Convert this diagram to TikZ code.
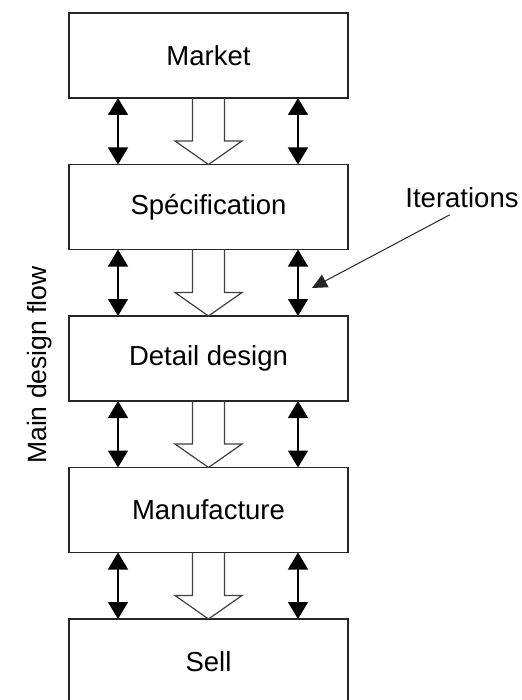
\documentclass[tikz,border=0pt]{standalone}
\usepackage{fontspec}
\setmainfont{Liberation Sans}
\usetikzlibrary{arrows.meta,positioning,calc}
\tikzset{every picture/.style={font=\fontsize{27.5}{33}\selectfont}}

\begin{document}
\begin{tikzpicture}[
  x=1pt, y=1pt,
  node distance=66.5pt,
  stage/.style={
    rectangle, draw=black!85, line width=1.3pt,
    minimum width=279pt, minimum height=85pt,
    inner sep=0pt, outer sep=0pt, align=center
  },
  iterarrow/.style={
    {Triangle[length=17pt,width=20pt]}-{Triangle[length=17pt,width=20pt]},
    line width=1.5pt
  },
  flowarrow/.style={draw=black!75, line width=1.2pt, line join=miter},
  pointer/.style={-{Triangle[length=15pt,width=14pt]}, line width=1pt, black!85}
]
\useasboundingbox (0,0) rectangle (521,-700);

\node[stage] (mkt) at (208.5,-55.5) {Market};
\node[stage, below=of mkt] (spec) {Spécification};
\node[stage, below=of spec] (det) {Detail design};
\node[stage, below=of det] (man) {Manufacture};
\node[stage, below=of man] (sell) {Sell};

% iterations and main flow between stages
\foreach \a/\b in {mkt/spec, spec/det, det/man, man/sell}{
  \draw[iterarrow] ($(\a.south west)+(49,0)$) -- ($(\b.north west)+(49,0)$);
  \draw[iterarrow] ($(\a.south east)+(-50,0)$) -- ($(\b.north east)+(-50,0)$);
  \draw[flowarrow] ($(\a.south)+(-16,0)$) -- ++(0,-43) -- ++(-17.5,0)
    -- (\b.north) -- ($(\a.south)+(33.5,-43)$) -- ++(-17.5,0)
    -- ($(\a.south)+(16,0)$);
}

\node[rotate=90, font=\fontsize{26.5}{32}\selectfont] (flow) at (40,-365) {Main design flow};

\node[inner sep=0pt] (iter) at (462,-198) {Iterations};
\coordinate (itertip) at (312,-288);
\draw[pointer, shorten <=14pt] (iter.south) -- (itertip);
\end{tikzpicture}
\end{document}
